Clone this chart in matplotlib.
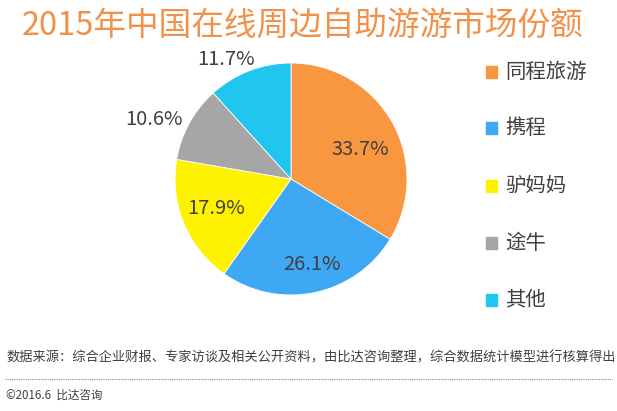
import numpy as np
import matplotlib
matplotlib.use("Agg")
import matplotlib.pyplot as plt

plt.rcParams['font.family'] = ['Noto Sans CJK SC', 'DejaVu Sans']

title = "2015年中国在线周边自助游游市场份额"
categories = ["同程旅游", "携程", "驴妈妈", "途牛", "其他"]
values = [33.7, 26.1, 17.9, 10.6, 11.7]
labels = ["33.7%", "26.1%", "17.9%", "10.6%", "11.7%"]
colors = ["#F99640", "#3FA8F4", "#FFF200", "#A6A6A6", "#20C6EE"]
label_dist = [0.65, 0.76, 0.69, 1.29, 1.17]
label_shift = [-6.5, 2.3, -1.1, 5.5, 7.4]   # degrees
source = "数据来源：综合企业财报、专家访谈及相关公开资料，由比达咨询整理，综合数据统计模型进行核算得出"
footer = "©2016.6  比达咨询"

W, H = 617, 411
fig = plt.figure(figsize=(W/100, H/100), dpi=100)
fig.patch.set_facecolor("white")

# pie axes: center (291,179), radius 116 px
cx, cy, r = 291, 179, 116
ax = fig.add_axes([(cx - r)/W, 1 - (cy + r)/H, 2*r/W, 2*r/H])
wedges, _ = ax.pie(values, colors=colors, startangle=90, counterclock=False,
                   radius=1.0, wedgeprops=dict(edgecolor="#FFFFFF", linewidth=0.6))
ax.set_xlim(-1, 1)
ax.set_ylim(-1, 1)
ax.set_aspect("auto")
ax.axis("off")

cum = np.cumsum([0] + values[:-1])
for v, c0, lab, d, s in zip(values, cum, labels, label_dist, label_shift):
    ang = np.deg2rad(90 - (c0 + v/2) * 3.6 + s)
    ax.text(d*np.cos(ang), d*np.sin(ang), lab, ha="center", va="center",
            fontsize=14.5, color="#404040", clip_on=False, fontweight="light")

fig.text(22/W, 1 - 26/H, title, fontsize=23.5, color="#F2924A",
         ha="left", va="center", fontweight="light")

# legend
ys = [72, 128, 186, 243, 300]
for y, c, name in zip(ys, colors, categories):
    fig.patches.append(plt.Rectangle((486/W, 1 - (y + 6)/H), 11/W, 12/H,
                                     transform=fig.transFigure, color=c))
    fig.text(505/W, 1 - y/H, name, fontsize=14.7, color="#404040",
             ha="left", va="center", fontweight="light")

fig.text(6/W, 1 - 358/H, source, fontsize=9.5, color="#404040",
         ha="left", va="center", fontweight="light")
fig.add_artist(plt.Line2D([5/W, 612/W], [1 - 379/H, 1 - 379/H],
                          transform=fig.transFigure, color="#888888",
                          linewidth=0.8, linestyle=(0, (1, 1))))
fig.text(6/W, 1 - 395/H, footer, fontsize=8.3, color="#404040",
         ha="left", va="center", fontweight="light")

fig.savefig("out.png", dpi=100, facecolor="white")
